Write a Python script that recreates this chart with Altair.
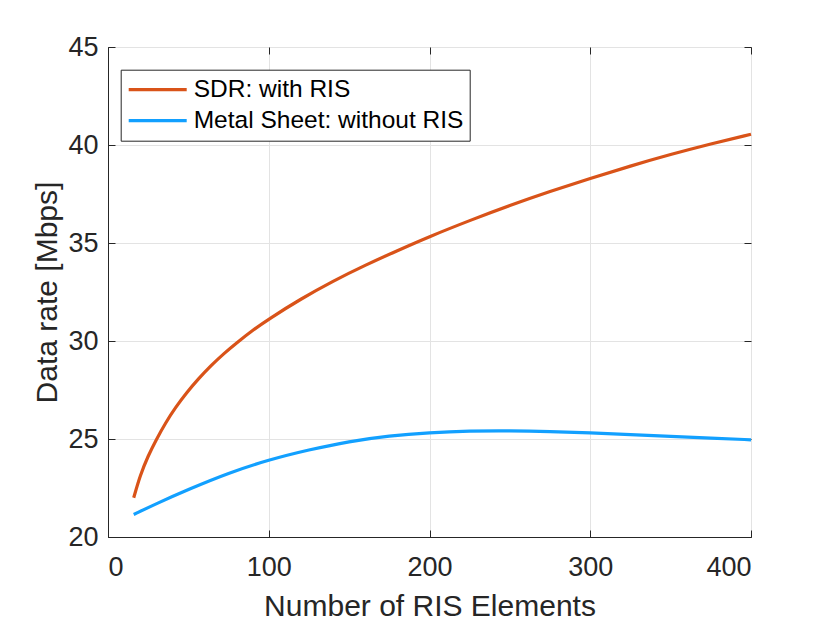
import altair as alt
import pandas as pd

# ---- data ----
sdr_x = [16, 20, 25, 30, 36, 42, 49, 56, 64, 72, 81, 90, 100, 120, 140, 160, 180, 200,
         225, 250, 275, 300, 325, 350, 375, 400]
sdr_y = [22.0, 23.15, 24.15, 24.97, 25.85, 26.61, 27.37, 28.05, 28.74, 29.36, 29.97, 30.55, 31.12,
         32.15, 33.06, 33.87, 34.61, 35.33, 36.15, 36.92, 37.63, 38.3, 38.93, 39.52, 40.06, 40.55]

metal_x = [16, 30, 50, 75, 100, 125, 150, 175, 200, 225, 250, 275, 300, 325, 350, 375, 400]
metal_y = [21.15, 21.7, 22.43, 23.27, 23.94, 24.45, 24.88, 25.17, 25.33, 25.41, 25.42, 25.38,
           25.31, 25.23, 25.13, 25.04, 24.96]

series_names = ["SDR: with RIS", "Metal Sheet: without RIS"]
series_colors = ["#D95319", "#12A0FF"]

x_ticks = [0, 100, 200, 300, 400]
y_ticks = [20, 25, 30, 35, 40, 45]

df = pd.concat([
    pd.DataFrame({"x": sdr_x, "y": sdr_y, "series": series_names[0]}),
    pd.DataFrame({"x": metal_x, "y": metal_y, "series": series_names[1]}),
])

FONT = "Liberation Sans"
TXT = "#262626"

xs = alt.Scale(domain=[0, 400], nice=False, zero=False)
ys = alt.Scale(domain=[20, 45], nice=False, zero=False)

base = alt.Chart(df)

main = base.mark_line(strokeWidth=3.2, interpolate="basis").encode(
    x=alt.X("x:Q", scale=xs, axis=alt.Axis(
        orient="bottom", values=x_ticks, grid=True, gridColor="#e3e3e3",
        ticks=False, tickSize=0, domain=True, domainColor=TXT,
        labelFont=FONT, labelFontSize=27, labelColor=TXT, labelPadding=17,
        title="Number of RIS Elements", titleFont=FONT, titleFontSize=30,
        titleFontWeight="normal", titleColor=TXT, titlePadding=11)),
    y=alt.Y("y:Q", scale=ys, axis=alt.Axis(
        orient="left", values=y_ticks, grid=True, gridColor="#e3e3e3",
        ticks=False, tickSize=0, domain=True, domainColor=TXT,
        labelFont=FONT, labelFontSize=27, labelColor=TXT, labelPadding=10,
        title="Data rate [Mbps]", titleFont=FONT, titleFontSize=30,
        titleFontWeight="normal", titleColor=TXT, titlePadding=5)),
    color=alt.Color("series:N",
                    scale=alt.Scale(domain=series_names, range=series_colors),
                    legend=alt.Legend(
                        title=None, orient="none", legendX=12.7, legendY=22.7,
                        symbolType="stroke", symbolSize=3364, symbolStrokeWidth=3.2,
                        labelFont=FONT, labelFontSize=24.5, labelColor="black",
                        labelLimit=500, labelOffset=5, clipHeight=28, rowPadding=3,
                        padding=6, strokeColor=TXT, fillColor="white")),
)

tick_axis = dict(ticks=True, tickSize=7, tickColor=TXT, labels=False, domain=False,
                 grid=False, title=None, offset=-7)

inner_bl = base.mark_line(strokeOpacity=0).encode(
    x=alt.X("x:Q", scale=xs, axis=alt.Axis(orient="bottom", values=x_ticks, **tick_axis)),
    y=alt.Y("y:Q", scale=ys, axis=alt.Axis(orient="left", values=y_ticks, **tick_axis)),
    detail="series:N",
)

inner_tr = base.mark_line(strokeOpacity=0).encode(
    x=alt.X("x:Q", scale=xs, axis=alt.Axis(orient="top", values=x_ticks, **tick_axis)),
    y=alt.Y("y:Q", scale=ys, axis=alt.Axis(orient="right", values=y_ticks, **tick_axis)),
    detail="series:N",
)

chart = alt.layer(main, inner_bl, inner_tr).resolve_axis(
    x="independent", y="independent"
).properties(
    width=643, height=490,
    autosize=alt.AutoSizeParams(type="none"),
    padding={"left": 100, "top": 39, "right": 60, "bottom": 84},
).configure_view(stroke=TXT, strokeWidth=1)

chart.save("out.html", embed_options={"renderer": "svg", "actions": False})
